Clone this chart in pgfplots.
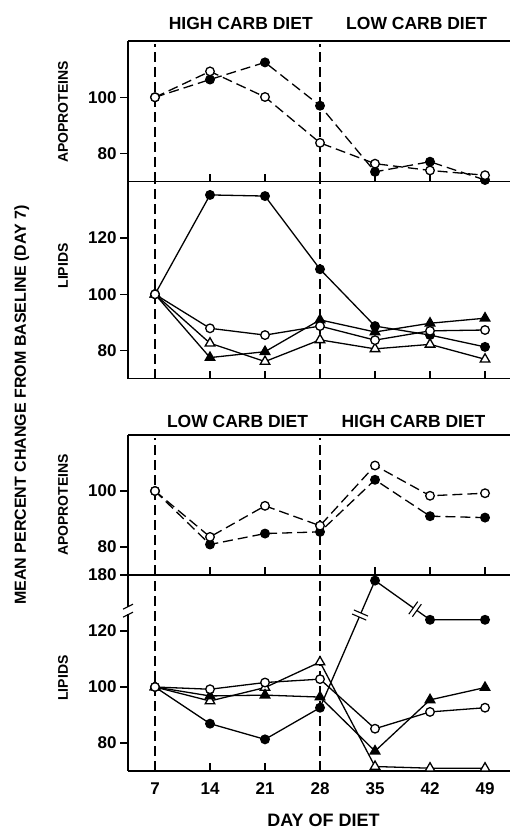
\documentclass[border=0pt]{standalone}
\usepackage{fontspec}
\setmainfont{Liberation Sans}
\usepackage{pgfplots}
\pgfplotsset{compat=1.18}
\tikzset{vdash/.style={line width=1.1pt, dash pattern=on 10pt off 5pt}}
\begin{document}
\begin{tikzpicture}
\useasboundingbox (0,0) rectangle (511pt,830pt);
\pgfplotsset{
  panel/.style={
    scale only axis, width=382pt,
    xmin=3.564, xmax=52.18,
    axis x line=bottom, axis y line=left,
    axis line style={line width=1.3pt, -},
    xtick={14,21,35,42,49}, xticklabels={},
    xtick align=inside, ytick align=outside,
    major tick length=8pt,
    every tick/.style={black, line width=1.2pt},
    tick label style={font=\fontsize{17}{17}\selectfont\bfseries},
    /pgf/number format/assume math mode=true,
    clip=false,
    anchor=south west,
  },
  apo/.style={black, line width=1.3pt, dash pattern=on 10pt off 5pt},
  lip/.style={black, line width=1.3pt, solid},
  fc/.style={mark=*, mark size=4.3pt, mark options={solid, fill=black}},
  oc/.style={mark=*, mark size=4.3pt, mark options={solid, fill=white}},
  ft/.style={mark=triangle*, mark size=5.5pt, mark options={solid, fill=black}},
  ot/.style={mark=triangle*, mark size=5.5pt, mark options={solid, fill=white}},
}
% ---------- Panel 1: apoproteins (high -> low)
\begin{axis}[panel, at={(128pt,648.3pt)}, height=140.7pt, ymin=70, ymax=120, ytick={80,100}]
\draw[line width=1.3pt] (rel axis cs:0,1) -- (rel axis cs:1,1);
\draw[vdash] (axis cs:7,70) -- (axis cs:7,119);
\draw[vdash] (axis cs:28,70) -- (axis cs:28,119);
\addplot[apo, fc] coordinates {(7,100) (14,106.3) (21,112.4) (28,97) (35,73.5) (42,77.1) (49,70.6)};
\addplot[apo, oc] coordinates {(7,100) (14,109.2) (21,100.1) (28,83.8) (35,76.4) (42,74) (49,72.3)};
\end{axis}
% ---------- Panel 2: lipids (high -> low)
\begin{axis}[panel, at={(128pt,451.3pt)}, height=197pt, ymin=70, ymax=140, ytick={80,100,120}]
\draw[vdash] (axis cs:7,70) -- (axis cs:7,140);
\draw[vdash] (axis cs:28,70) -- (axis cs:28,140);
\addplot[lip, ot] coordinates {(7,100) (14,82.6) (21,76.1) (28,83.8) (35,80.6) (42,82.2) (49,76.9)};
\addplot[lip, ft] coordinates {(7,100) (14,77.5) (21,79.6) (28,90.9) (35,86.6) (42,89.7) (49,91.5)};
\addplot[lip, fc] coordinates {(7,100) (14,135.3) (21,134.9) (28,108.9) (35,88.7) (42,85.5) (49,81.3)};
\addplot[lip, oc] coordinates {(7,100) (14,87.9) (21,85.5) (28,88.7) (35,83.7) (42,87) (49,87.3)};
\end{axis}
% ---------- Panel 3: apoproteins (low -> high)
\begin{axis}[panel, at={(128pt,255pt)}, height=140pt, ymin=70, ymax=120, ytick={80,100}]
\draw[line width=1.3pt] (rel axis cs:0,1) -- (rel axis cs:1,1);
\draw[vdash] (axis cs:7,70) -- (axis cs:7,119);
\draw[vdash] (axis cs:28,70) -- (axis cs:28,119);
\addplot[apo, fc] coordinates {(7,100) (14,80.9) (21,84.8) (28,85.4) (35,104) (42,91) (49,90.5)};
\addplot[apo, oc] coordinates {(7,100) (14,83.6) (21,94.7) (28,87.6) (35,109.1) (42,98.3) (49,99.2)};
\end{axis}
% ---------- Panel 4: lipids (low -> high), top of scale broken (140 drawn = 180)
\begin{axis}[panel, at={(128pt,59pt)}, height=196pt, ymin=70, ymax=140,
  ytick={80,100,120,140}, yticklabels={80,100,120,180},
  xtick={7,14,21,28,35,42,49}, xticklabels={7,14,21,28,35,42,49},
  xticklabel style={yshift=-8pt}]
\draw[vdash] (axis cs:7,70) -- (axis cs:7,140);
\draw[vdash] (axis cs:28,70) -- (axis cs:28,140);
\addplot[lip, ot] coordinates {(7,100) (14,95) (21,99.8) (28,108.9) (35,71.6) (42,71) (49,71)};
\addplot[lip, ft] coordinates {(7,100) (14,96.8) (21,97.1) (28,96.4) (35,77.1) (42,95.4) (49,99.8)};
\addplot[lip, fc] coordinates {(7,100) (14,86.9) (21,81.3) (28,92.6) (35,138) (42,124) (49,124)};
\addplot[lip, oc] coordinates {(7,100) (14,99.2) (21,101.6) (28,102.8) (35,85.1) (42,91.1) (49,92.6)};
\coordinate (b1) at (axis cs:33.1,125.7);
\coordinate (b2) at (axis cs:40.1,127.8);
\coordinate (ya) at (axis cs:3.564,126);
\coordinate (yb) at (axis cs:3.564,128.5);
\end{axis}
% break marks
\node[rotate=66.6, fill=white, inner sep=0pt, minimum width=4pt, minimum height=15pt] (B1) at (b1) {};
\draw[line width=1.1pt] (B1.north west) -- (B1.south west) (B1.north east) -- (B1.south east);
\node[rotate=-35.5, fill=white, inner sep=0pt, minimum width=4pt, minimum height=15pt] (B2) at (b2) {};
\draw[line width=1.1pt] (B2.north west) -- (B2.south west) (B2.north east) -- (B2.south east);
\fill[white] ([xshift=-2pt]ya) rectangle ([xshift=2pt]yb);
\draw[line width=1.1pt] ([xshift=-5pt,yshift=-3pt]ya) -- ([xshift=5pt,yshift=2pt]ya);
\draw[line width=1.1pt] ([xshift=-5pt,yshift=-2pt]yb) -- ([xshift=5pt,yshift=3pt]yb);
% texts
\node[font=\fontsize{17.5}{17.5}\selectfont\bfseries] at (240.8pt,807pt) {HIGH CARB DIET};
\node[font=\fontsize{17.5}{17.5}\selectfont\bfseries] at (416.7pt,807pt) {LOW CARB DIET};
\node[font=\fontsize{17.5}{17.5}\selectfont\bfseries] at (237.5pt,408.3pt) {LOW CARB DIET};
\node[font=\fontsize{17.5}{17.5}\selectfont\bfseries] at (413.5pt,408.3pt) {HIGH CARB DIET};
\node[anchor=base, inner sep=0pt, font=\fontsize{18}{18}\selectfont\bfseries] at (323.5pt,3pt) {DAY OF DIET};
\node[rotate=90, font=\fontsize{16}{16}\selectfont\bfseries] at (21.7pt,425pt) {MEAN PERCENT CHANGE FROM BASELINE (DAY 7)};
\node[rotate=90, font=\fontsize{14}{14}\selectfont\bfseries] at (63pt,718pt) {APOPROTEINS};
\node[rotate=90, font=\fontsize{14}{14}\selectfont\bfseries] at (63pt,564pt) {LIPIDS};
\node[rotate=90, font=\fontsize{14}{14}\selectfont\bfseries] at (63pt,325pt) {APOPROTEINS};
\node[rotate=90, font=\fontsize{14}{14}\selectfont\bfseries] at (63pt,152pt) {LIPIDS};
\end{tikzpicture}
\end{document}
